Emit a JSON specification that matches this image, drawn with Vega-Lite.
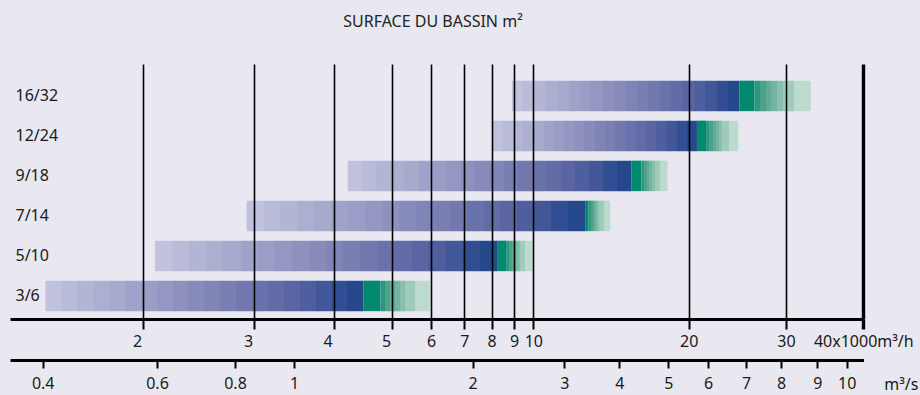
{
  "$schema": "https://vega.github.io/schema/vega-lite/v6.json",
  "width": 854,
  "height": 255,
  "autosize": {"type": "none"},
  "padding": {"left": 10, "top": 64, "right": 56, "bottom": 76},
  "background": "#E9E8F1",
  "title": {"text": "SURFACE DU BASSIN m²", "fontSize": 16, "fontWeight": "normal", "color": "#222222", "anchor": "middle", "offset": 21, "baseline": "alphabetic", "font": "Noto Sans", "dx": -4},
  "config": {"view": {"stroke": null}, "font": "Noto Sans"},
  "datasets": {
    "bassins": [
      {"surface": "16/32", "debut": 8.9, "bleu": 24.7, "vert": 26.3, "fin": 32.9},
      {"surface": "12/24", "debut": 8.03, "bleu": 20.7, "vert": 21.5, "fin": 24.6},
      {"surface": "9/18", "debut": 4.22, "bleu": 15.5, "vert": 16.2, "fin": 18.2},
      {"surface": "7/14", "debut": 2.92, "bleu": 12.6, "vert": 12.8, "fin": 14.1},
      {"surface": "5/10", "debut": 2.09, "bleu": 8.23, "vert": 8.66, "fin": 9.95},
      {"surface": "3/6", "debut": 1.4, "bleu": 4.48, "vert": 4.78, "fin": 5.97}
    ],
    "debit_s": [
      {"q": 0.4}, {"q": 0.6}, {"q": 0.8}, {"q": 1}, {"q": 2}, {"q": 3}, {"q": 4},
      {"q": 5}, {"q": 6}, {"q": 7}, {"q": 8}, {"q": 9}, {"q": 10}
    ]
  },
  "layer": [
    {
      "data": {"name": "bassins"},
      "encoding": {
        "y": {
          "field": "surface", "type": "nominal",
          "scale": {"domain": ["16/32", "12/24", "9/18", "7/14", "5/10", "3/6"], "paddingInner": 0.2375, "paddingOuter": 0.306, "align": 0.68},
          "axis": {"title": null, "domain": false, "ticks": false, "tickSize": 0, "labelAlign": "left", "labelPadding": -5, "labelFontSize": 16, "labelColor": "#1a1a1a", "grid": false, "labelBaseline": "middle"}
        }
      },
      "layer": [
        {
          "mark": {"type": "bar", "fill": {"gradient": "linear", "x1": 0, "x2": 1, "y1": 0, "y2": 0, "stops": [
            {"offset": 0, "color": "#c0c1dc"}, {"offset": 0.05, "color": "#c0c1dc"},
            {"offset": 0.05, "color": "#babbd8"}, {"offset": 0.1, "color": "#babbd8"},
            {"offset": 0.1, "color": "#b3b5d4"}, {"offset": 0.15, "color": "#b3b5d4"},
            {"offset": 0.15, "color": "#adafd1"}, {"offset": 0.2, "color": "#adafd1"},
            {"offset": 0.2, "color": "#a7a9cd"}, {"offset": 0.25, "color": "#a7a9cd"},
            {"offset": 0.25, "color": "#a0a3c9"}, {"offset": 0.3, "color": "#a0a3c9"},
            {"offset": 0.3, "color": "#9a9dc5"}, {"offset": 0.35, "color": "#9a9dc5"},
            {"offset": 0.35, "color": "#9497c2"}, {"offset": 0.4, "color": "#9497c2"},
            {"offset": 0.4, "color": "#8e91be"}, {"offset": 0.45, "color": "#8e91be"},
            {"offset": 0.45, "color": "#878bba"}, {"offset": 0.5, "color": "#878bba"},
            {"offset": 0.5, "color": "#8085b6"}, {"offset": 0.55, "color": "#8085b6"},
            {"offset": 0.55, "color": "#797fb2"}, {"offset": 0.6, "color": "#797fb2"},
            {"offset": 0.6, "color": "#7278ae"}, {"offset": 0.65, "color": "#7278ae"},
            {"offset": 0.65, "color": "#6a72ab"}, {"offset": 0.7, "color": "#6a72ab"},
            {"offset": 0.7, "color": "#636ca7"}, {"offset": 0.75, "color": "#636ca7"},
            {"offset": 0.75, "color": "#5c65a3"}, {"offset": 0.8, "color": "#5c65a3"},
            {"offset": 0.8, "color": "#4f5e9e"}, {"offset": 0.85, "color": "#4f5e9e"},
            {"offset": 0.85, "color": "#415798"}, {"offset": 0.9, "color": "#415798"},
            {"offset": 0.9, "color": "#334f93"}, {"offset": 0.95, "color": "#334f93"},
            {"offset": 0.95, "color": "#25488d"}, {"offset": 1, "color": "#25488d"}
          ]}},
          "encoding": {
            "x": {
              "field": "debut", "type": "quantitative",
              "scale": {"type": "log", "domain": [1.23, 2, 3, 4, 5, 6, 7, 8, 9, 10, 20, 30, 40], "range": [0, 133, 244, 323.7, 382, 421, 454.3, 481.7, 504, 523.3, 678.7, 776, 853.3], "nice": false},
              "axis": {
                "orient": "bottom", "values": [2, 3, 4, 5, 6, 7, 8, 9, 10, 20, 30, 40], "format": "~g",
                "labelExpr": "datum.value == 40 ? '40x1000m³/h' : datum.label",
                "title": null, "grid": true, "gridColor": "#000000", "gridOpacity": 1,
                "gridWidth": {"condition": {"test": "datum.value == 40", "value": 3.4}, "value": 1.6},
                "tickWidth": {"condition": {"test": "datum.value == 40", "value": 3.4}, "value": 2},
                "tickColor": "#000000", "tickSize": 10,
                "domainColor": "#000000", "domainWidth": 3,
                "labelFontSize": 16, "labelColor": "#1a1a1a", "labelPadding": 4,
                "labelFlush": false, "labelOverlap": false, "labelBound": false,
                "labelOffset": {"condition": {"test": "datum.value <= 5", "value": -6}, "value": 0},
                "zindex": 1
              }
            },
            "x2": {"field": "bleu"}
          }
        },
        {
          "mark": {"type": "bar", "fill": "#00896f"},
          "encoding": {
            "x": {
              "field": "bleu", "type": "quantitative",
              "scale": {"type": "log", "domain": [1.23, 2, 3, 4, 5, 6, 7, 8, 9, 10, 20, 30, 40], "range": [0, 133, 244, 323.7, 382, 421, 454.3, 481.7, 504, 523.3, 678.7, 776, 853.3], "nice": false},
              "axis": {
                "orient": "bottom", "values": [2, 3, 4, 5, 6, 7, 8, 9, 10, 20, 30, 40], "format": "~g",
                "labelExpr": "datum.value == 40 ? '40x1000m³/h' : datum.label",
                "title": null, "grid": true, "gridColor": "#000000", "gridOpacity": 1,
                "gridWidth": {"condition": {"test": "datum.value == 40", "value": 3.4}, "value": 1.6},
                "tickWidth": {"condition": {"test": "datum.value == 40", "value": 3.4}, "value": 2},
                "tickColor": "#000000", "tickSize": 10,
                "domainColor": "#000000", "domainWidth": 3,
                "labelFontSize": 16, "labelColor": "#1a1a1a", "labelPadding": 4,
                "labelFlush": false, "labelOverlap": false, "labelBound": false,
                "labelOffset": {"condition": {"test": "datum.value <= 5", "value": -6}, "value": 0},
                "zindex": 1
              }
            },
            "x2": {"field": "vert"}
          }
        },
        {
          "mark": {"type": "bar", "fill": {"gradient": "linear", "x1": 0, "x2": 1, "y1": 0, "y2": 0, "stops": [
            {"offset": 0, "color": "#2f977f"}, {"offset": 0.1, "color": "#2f977f"},
            {"offset": 0.1, "color": "#4ca28c"}, {"offset": 0.2, "color": "#4ca28c"},
            {"offset": 0.2, "color": "#60ab97"}, {"offset": 0.3, "color": "#60ab97"},
            {"offset": 0.3, "color": "#75b4a2"}, {"offset": 0.4, "color": "#75b4a2"},
            {"offset": 0.4, "color": "#89bead"}, {"offset": 0.5, "color": "#89bead"},
            {"offset": 0.5, "color": "#a0cbbb"}, {"offset": 0.7, "color": "#a0cbbb"},
            {"offset": 0.7, "color": "#bddacf"}, {"offset": 1, "color": "#bddacf"}
          ]}},
          "encoding": {
            "x": {
              "field": "vert", "type": "quantitative",
              "scale": {"type": "log", "domain": [1.23, 2, 3, 4, 5, 6, 7, 8, 9, 10, 20, 30, 40], "range": [0, 133, 244, 323.7, 382, 421, 454.3, 481.7, 504, 523.3, 678.7, 776, 853.3], "nice": false},
              "axis": {
                "orient": "bottom", "values": [2, 3, 4, 5, 6, 7, 8, 9, 10, 20, 30, 40], "format": "~g",
                "labelExpr": "datum.value == 40 ? '40x1000m³/h' : datum.label",
                "title": null, "grid": true, "gridColor": "#000000", "gridOpacity": 1,
                "gridWidth": {"condition": {"test": "datum.value == 40", "value": 3.4}, "value": 1.6},
                "tickWidth": {"condition": {"test": "datum.value == 40", "value": 3.4}, "value": 2},
                "tickColor": "#000000", "tickSize": 10,
                "domainColor": "#000000", "domainWidth": 3,
                "labelFontSize": 16, "labelColor": "#1a1a1a", "labelPadding": 4,
                "labelFlush": false, "labelOverlap": false, "labelBound": false,
                "labelOffset": {"condition": {"test": "datum.value <= 5", "value": -6}, "value": 0},
                "zindex": 1
              }
            },
            "x2": {"field": "fin"}
          }
        }
      ]
    },
    {
      "data": {"name": "debit_s"},
      "mark": {"type": "point", "opacity": 0},
      "encoding": {
        "x": {
          "field": "q", "type": "quantitative",
          "scale": {"type": "log", "domain": [0.356, 0.4, 0.6, 0.8, 1, 2, 3, 4, 5, 6, 7, 8, 9, 10, 10.62], "range": [0, 32.7, 147, 225, 284, 462.7, 554.3, 609.3, 658.3, 698, 736, 771, 807.3, 836.7, 853.5], "nice": false},
          "axis": {
            "orient": "bottom", "offset": 41, "values": [0.4, 0.6, 0.8, 1, 2, 3, 4, 5, 6, 7, 8, 9, 10], "format": "~g",
            "grid": false, "tickColor": "#000000", "tickSize": 8, "tickWidth": 2,
            "domainColor": "#000000", "domainWidth": 3,
            "labelFontSize": 16, "labelColor": "#1a1a1a", "labelPadding": 7,
            "labelFlush": false, "labelOverlap": false, "labelBound": false,
            "title": "m³/s", "titleX": 908, "titleY": 29, "titleAlign": "right", "titleBaseline": "alphabetic", "titleAngle": 0,
            "titleFontSize": 16, "titleFontWeight": "normal", "titleColor": "#1a1a1a", "titleFont": "Noto Sans"
          }
        }
      }
    }
  ],
  "resolve": {"scale": {"x": "independent"}}
}
